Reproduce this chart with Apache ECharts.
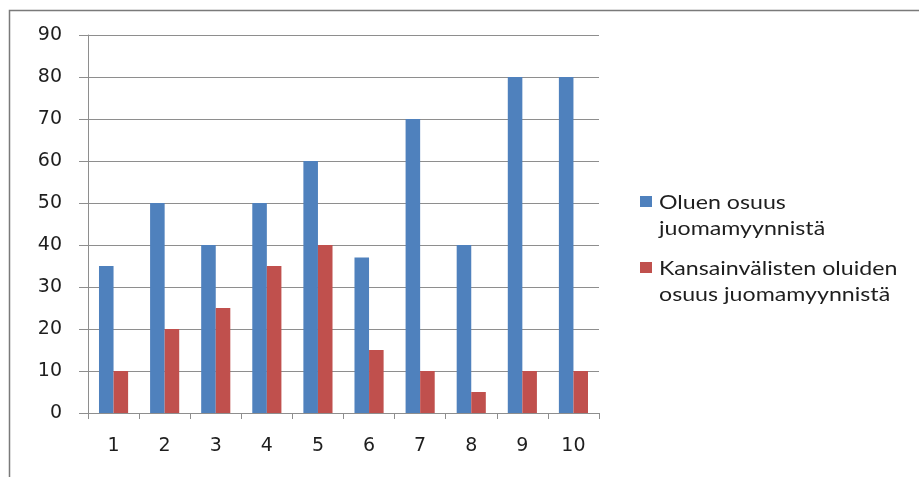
<!DOCTYPE html>
<html>
<head>
<meta charset="utf-8">
<script src="https://cdn.jsdelivr.net/npm/echarts@6/dist/echarts.min.js"></script>
<style>
  html, body { margin: 0; padding: 0; background: #ffffff; }
  #chart { width: 919px; height: 477px; }
</style>
</head>
<body>
<div id="chart"></div>
<script>
// Categories along the x axis
const categories = ['1', '2', '3', '4', '5', '6', '7', '8', '9', '10'];

// Series names (legend wraps onto two lines each)
const seriesNames = ['Oluen osuus juomamyynnistä', 'Kansainvälisten oluiden osuus juomamyynnistä'];
const legendLines = [
  ['Oluen osuus', 'juomamyynnistä'],
  ['Kansainvälisten oluiden', 'osuus juomamyynnistä']
];

// Values
const beerShare = [35, 50, 40, 50, 60, 37, 70, 40, 80, 80];
const intlBeerShare = [10, 20, 25, 35, 40, 15, 10, 5, 10, 10];

// Y axis range
const yMin = 0, yMax = 90, yStep = 10;

const colors = ['#4F81BD', '#C0504D'];
const gridColor = '#8e8e8e';
const textColor = '#1e1e1e';

const chart = echarts.init(document.getElementById('chart'), null, { renderer: 'canvas' });

// Legend drawn as graphic elements so the swatch sits on the first line
const legendGraphics = [];
const legendTop = [193, 259];
legendLines.forEach((lines, i) => {
  legendGraphics.push({
    type: 'rect',
    shape: { x: 640, y: legendTop[i] + 3, width: 12, height: 11 },
    style: { fill: colors[i] }
  });
  legendGraphics.push({
    type: 'text',
    x: 659,
    y: legendTop[i] - 3,
    scaleX: 1.22,
    style: {
      text: lines.join('\n'),
      fill: textColor,
      font: '19px Lato',
      lineHeight: 26
    }
  });
});

// Outer frame (top and left edges)
legendGraphics.push({
  type: 'polyline',
  shape: { points: [[9.5, 477], [9.5, 10.5], [919, 10.5]] },
  style: { stroke: '#7a7a7a', lineWidth: 1.5, fill: null }
});

chart.setOption({
  backgroundColor: '#ffffff',
  animation: false,
  color: colors,
  grid: { left: 88, right: 320, top: 35, bottom: 64 },
  xAxis: {
    type: 'category',
    data: categories,
    axisLine: { lineStyle: { color: gridColor, width: 1 } },
    axisTick: { show: true, length: 6, lineStyle: { color: gridColor } },
    axisLabel: {
      color: textColor,
      fontFamily: 'DejaVu Sans',
      fontSize: 19,
      margin: 24
    }
  },
  yAxis: {
    type: 'value',
    min: yMin,
    max: yMax,
    interval: yStep,
    axisLine: { show: true, lineStyle: { color: gridColor, width: 1 } },
    axisTick: { show: true, length: 9, lineStyle: { color: gridColor } },
    splitLine: { show: true, lineStyle: { color: gridColor, width: 1 } },
    axisLabel: {
      color: textColor,
      fontFamily: 'DejaVu Sans',
      fontSize: 19,
      margin: 26
    }
  },
  series: [
    {
      name: seriesNames[0],
      type: 'bar',
      data: beerShare,
      barGap: '0%',
      barCategoryGap: '43%',
      itemStyle: { color: colors[0] }
    },
    {
      name: seriesNames[1],
      type: 'bar',
      data: intlBeerShare,
      barGap: '0%',
      barCategoryGap: '43%',
      itemStyle: { color: colors[1] }
    }
  ],
  graphic: legendGraphics
});
</script>
</body>
</html>
